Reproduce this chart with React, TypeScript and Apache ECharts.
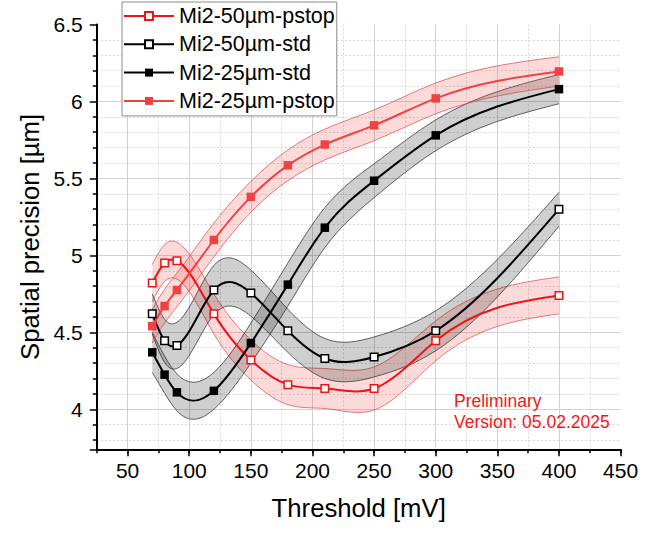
import React, { useEffect, useRef } from "react";
import * as echarts from "echarts";

// ---- data ----
const thresholds = [70, 80, 90, 120, 150, 180, 210, 250, 300, 400];

const p50 = [4.82, 4.95, 4.965, 4.62, 4.32, 4.16, 4.135, 4.135, 4.445, 4.74];
const s50 = [4.62, 4.445, 4.415, 4.775, 4.755, 4.51, 4.33, 4.34, 4.51, 5.3];
const s25 = [4.37, 4.225, 4.11, 4.12, 4.43, 4.81, 5.18, 5.485, 5.78, 6.08];
const p25 = [4.54, 4.67, 4.775, 5.1, 5.38, 5.585, 5.72, 5.845, 6.02, 6.195];

// half widths of the shaded bands
const p50W = [0.12, 0.12, 0.12, 0.13, 0.13, 0.13, 0.13, 0.14, 0.13, 0.12];
const s50W = [0.13, 0.14, 0.15, 0.16, 0.15, 0.14, 0.13, 0.13, 0.13, 0.11];
const s25W = [0.13, 0.12, 0.12, 0.12, 0.13, 0.14, 0.13, 0.11, 0.1, 0.095];
const p25W = [0.11, 0.11, 0.11, 0.11, 0.1, 0.1, 0.1, 0.1, 0.1, 0.095];

const seriesNames = ["Mi2-50µm-pstop", "Mi2-50µm-std", "Mi2-25µm-std", "Mi2-25µm-pstop"];
const annotationLines = ["Preliminary", "Version: 05.02.2025"];

const FONT = "'Liberation Sans', Arial, Helvetica, sans-serif";
const RED_OPEN = "#ee1414";
const RED_FILL = "#f04242";

type Seg = { p0: number[]; c1: number[]; c2: number[]; p1: number[] };

// cubic spline through pixel points (x increasing), returned as Bezier segments
function splineSegs(pts: number[][]): Seg[] {
  const n = pts.length;
  const X = pts.map((p) => p[0]);
  const Y = pts.map((p) => p[1]);
  const h: number[] = [];
  for (let i = 0; i < n - 1; i++) h[i] = X[i + 1] - X[i];
  const a = new Array(n).fill(0);
  const b = new Array(n).fill(1);
  const c = new Array(n).fill(0);
  const d = new Array(n).fill(0);
  for (let i = 1; i < n - 1; i++) {
    a[i] = h[i - 1];
    b[i] = 2 * (h[i - 1] + h[i]);
    c[i] = h[i];
    d[i] = 6 * ((Y[i + 1] - Y[i]) / h[i] - (Y[i] - Y[i - 1]) / h[i - 1]);
  }
  for (let i = 1; i < n; i++) {
    const w = a[i] / b[i - 1];
    b[i] -= w * c[i - 1];
    d[i] -= w * d[i - 1];
  }
  const M = new Array(n).fill(0);
  M[n - 1] = d[n - 1] / b[n - 1];
  for (let i = n - 2; i >= 0; i--) M[i] = (d[i] - c[i] * M[i + 1]) / b[i];
  const segs: Seg[] = [];
  for (let i = 0; i < n - 1; i++) {
    const hi = h[i];
    const s = (Y[i + 1] - Y[i]) / hi;
    const m0 = s - (hi * (2 * M[i] + M[i + 1])) / 6;
    const m1 = s + (hi * (M[i] + 2 * M[i + 1])) / 6;
    segs.push({
      p0: [X[i], Y[i]],
      c1: [X[i] + hi / 3, Y[i] + (m0 * hi) / 3],
      c2: [X[i + 1] - hi / 3, Y[i + 1] - (m1 * hi) / 3],
      p1: [X[i + 1], Y[i + 1]],
    });
  }
  return segs;
}

const f = (v: number) => v.toFixed(2);
function segsToPath(segs: Seg[], move: boolean): string {
  let out = move ? `M${f(segs[0].p0[0])},${f(segs[0].p0[1])}` : ` L${f(segs[0].p0[0])},${f(segs[0].p0[1])}`;
  for (const s of segs) {
    out += ` C${f(s.c1[0])},${f(s.c1[1])} ${f(s.c2[0])},${f(s.c2[1])} ${f(s.p1[0])},${f(s.p1[1])}`;
  }
  return out;
}
function reverseSegs(segs: Seg[]): Seg[] {
  return segs
    .slice()
    .reverse()
    .map((s) => ({ p0: s.p1, c1: s.c2, c2: s.c1, p1: s.p0 }));
}

function bandSeries(values: number[], half: number[], fill: string, edge: string) {
  return {
    type: "custom",
    coordinateSystem: "cartesian2d",
    silent: true,
    z: 1,
    data: [[thresholds[0], values[0]]],
    renderItem: (_params: any, api: any) => {
      const up = splineSegs(thresholds.map((x, i) => api.coord([x, values[i] + half[i]])));
      const lo = splineSegs(thresholds.map((x, i) => api.coord([x, values[i] - half[i]])));
      const upD = segsToPath(up, true);
      const loD = segsToPath(lo, true);
      const fillD = upD + segsToPath(reverseSegs(lo), false) + " Z";
      return {
        type: "group",
        children: [
          { type: "path", shape: { pathData: fillD }, style: { fill, stroke: null } },
          { type: "path", shape: { pathData: upD }, style: { fill: null, stroke: edge, lineWidth: 0.9 } },
          { type: "path", shape: { pathData: loD }, style: { fill: null, stroke: edge, lineWidth: 0.9 } },
        ],
      };
    },
  };
}

function curveSeries(values: number[], color: string) {
  return {
    type: "custom",
    coordinateSystem: "cartesian2d",
    silent: true,
    z: 4,
    data: [[thresholds[0], values[0]]],
    renderItem: (_params: any, api: any) => {
      const segs = splineSegs(thresholds.map((x, i) => api.coord([x, values[i]])));
      return {
        type: "path",
        shape: { pathData: segsToPath(segs, true) },
        style: { fill: null, stroke: color, lineWidth: 2 },
      };
    },
  };
}

function pointSeries(name: string, values: number[], itemStyle: any, size: number) {
  return {
    name,
    type: "line",
    data: thresholds.map((x, i) => [x, values[i]]),
    symbol: "rect",
    symbolSize: size,
    showAllSymbol: true,
    lineStyle: { opacity: 0, width: 0 },
    itemStyle,
    emphasis: { disabled: true },
    z: 5,
  };
}

export default function App() {
  const ref = useRef<HTMLDivElement>(null);

  useEffect(() => {
    if (!ref.current) return;
    const chart = echarts.init(ref.current, null, { renderer: "svg" });
    const axisText = { fontSize: 21, color: "#000", fontFamily: FONT };
    const lineColors = [RED_OPEN, "#000", "#000", RED_FILL];
    const option: any = {
      animation: false,
      backgroundColor: "#fff",
      grid: { left: 96.8, right: 33.4, top: 24.5, bottom: 83.7, containLabel: false },
      xAxis: [
        {
          // minor ticks / dotted grid every 25 mV
          type: "value",
          min: 25,
          max: 450,
          interval: 25,
          position: "bottom",
          axisLine: { show: false },
          axisTick: { show: true, length: 4, lineStyle: { color: "#000", width: 1.5 } },
          axisLabel: { show: false },
          splitLine: {
            show: true,
            showMinLine: false,
            showMaxLine: false,
            lineStyle: { color: "#d6d6d6", width: 1, type: [2, 2] },
          },
        },
        {
          type: "value",
          min: 25,
          max: 450,
          splitNumber: 8,
          position: "bottom",
          name: "Threshold [mV]",
          nameLocation: "middle",
          nameGap: 46,
          nameTextStyle: { fontSize: 25.7, color: "#000", fontFamily: FONT },
          axisLine: { show: true, onZero: false, lineStyle: { color: "#000", width: 2 } },
          axisTick: { show: true, length: 7, lineStyle: { color: "#000", width: 1.5 } },
          axisLabel: { ...axisText, margin: 11, showMinLabel: false },
          splitLine: { show: true, showMinLine: false, showMaxLine: false, lineStyle: { color: "#d2d2d2", width: 1 } },
        },
      ],
      yAxis: {
        type: "value",
        min: 3.74,
        max: 6.5,
        splitNumber: 5,
        name: "Spatial precision [µm]",
        nameLocation: "middle",
        nameGap: 51,
        nameRotate: 90,
        nameTextStyle: { fontSize: 25.7, color: "#000", fontFamily: FONT },
        axisLine: { show: true, onZero: false, lineStyle: { color: "#000", width: 2 } },
        axisTick: { show: true, length: 7, lineStyle: { color: "#000", width: 1.5 } },
        minorTick: { show: true, splitNumber: 5, length: 4, lineStyle: { color: "#000", width: 1.5 } },
        axisLabel: { ...axisText, margin: 14, showMinLabel: false },
        splitLine: { show: true, showMinLine: false, showMaxLine: false, lineStyle: { color: "#d2d2d2", width: 1 } },
        minorSplitLine: { show: true, lineStyle: { color: "#d6d6d6", width: 1, type: [2, 2] } },
      },
      legend: {
        orient: "vertical",
        left: 122,
        top: 2,
        padding: [3, 2, 4, 1],
        itemGap: 6.3,
        itemWidth: 50,
        itemHeight: 10,
        backgroundColor: "#fff",
        borderColor: "#8a8a8a",
        borderWidth: 1,
        borderRadius: 0,
        selectedMode: false,
        textStyle: { fontSize: 21.5, color: "#000", fontFamily: FONT },
        data: seriesNames.map((name, i) => ({
          name,
          lineStyle: { color: lineColors[i], width: 2, opacity: 1, type: "solid" },
        })),
      },
      graphic: [
        {
          type: "text",
          x: 454,
          y: 401,
          z: 10,
          style: { text: annotationLines[0], fontSize: 17.5, fontFamily: FONT, fill: "#f01818", verticalAlign: "middle" },
        },
        {
          type: "text",
          x: 454,
          y: 422,
          z: 10,
          style: { text: annotationLines[1], fontSize: 17.5, fontFamily: FONT, fill: "#f01818", verticalAlign: "middle" },
        },
      ],
      series: [
        bandSeries(p50, p50W, "rgba(245, 70, 70, 0.2)", "rgba(220, 60, 60, 0.75)"),
        bandSeries(s50, s50W, "rgba(0, 0, 0, 0.19)", "rgba(40, 40, 40, 0.8)"),
        bandSeries(s25, s25W, "rgba(0, 0, 0, 0.19)", "rgba(40, 40, 40, 0.8)"),
        bandSeries(p25, p25W, "rgba(245, 70, 70, 0.2)", "rgba(220, 60, 60, 0.75)"),
        curveSeries(p50, RED_OPEN),
        curveSeries(s50, "#000"),
        curveSeries(s25, "#000"),
        curveSeries(p25, RED_FILL),
        pointSeries(seriesNames[0], p50, { color: "#fff", borderColor: RED_OPEN, borderWidth: 1.5 }, 7.5),
        pointSeries(seriesNames[1], s50, { color: "#fff", borderColor: "#000", borderWidth: 1.5 }, 7.5),
        pointSeries(seriesNames[2], s25, { color: "#000" }, 8.5),
        pointSeries(seriesNames[3], p25, { color: RED_FILL }, 8.5),
      ],
    };
    chart.setOption(option);
    return () => chart.dispose();
  }, []);

  return (
    <div
      ref={ref}
      style={{ position: "fixed", left: 0, top: 0, width: 654, height: 533, background: "#fff" }}
    />
  );
}
